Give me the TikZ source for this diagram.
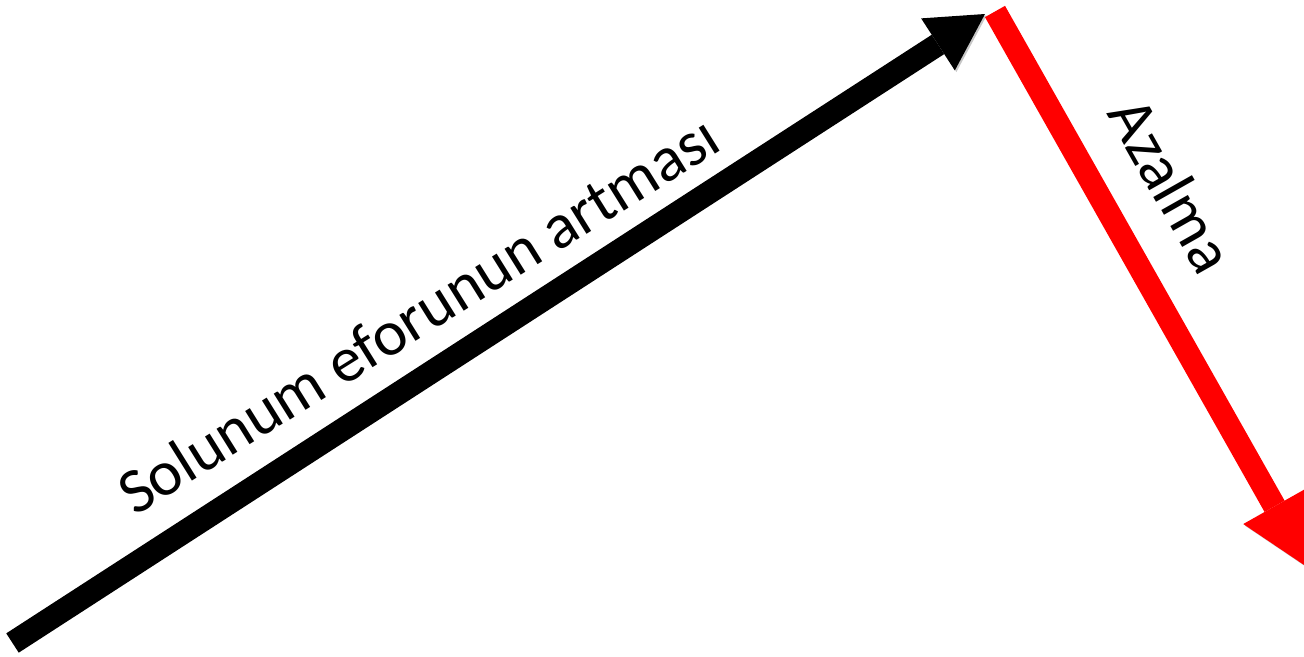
\documentclass[tikz,border=0pt]{standalone}
\usepackage{fontspec}
\setmainfont{Carlito}
\usetikzlibrary{arrows.meta}

\begin{document}
\begin{tikzpicture}[x=0.75pt, y=-0.75pt,
    bigarrow/.style={line width=17.25pt,
      preaction={draw=black!22, transform canvas={shift={(1.2pt,-1.2pt)}}}},
    arrowlabel/.style={font=\fontsize{48}{52}\selectfont, inner sep=0pt}]
  \useasboundingbox (0,0) rectangle (1304,657);
  \coordinate (tail) at (12.5,643);
  \coordinate (peak) at (985,14);
  \coordinate (start) at (995,11.5);
  \coordinate (drop) at (1310,569);
  % rising black arrow
  \draw[bigarrow, -{Triangle[length=42pt, width=46.5pt, line width=0pt]}] (tail) -- (peak);
  % falling red arrow
  \draw[bigarrow, red, -{Triangle[length=54pt, width=54pt, line width=0pt]}] (start) -- (drop);
  \node[arrowlabel, rotate=32] (rise) at (418,314) {Solunum eforunun artması};
  \node[arrowlabel, rotate=-60.5] (fall) at (1172,185) {Azalma};
\end{tikzpicture}
\end{document}
